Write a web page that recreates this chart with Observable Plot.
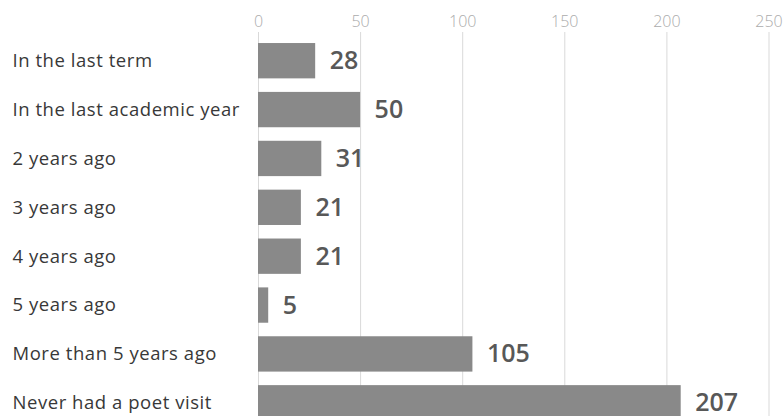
<!DOCTYPE html>
<html><head><meta charset="utf-8">
<script src="https://cdn.jsdelivr.net/npm/d3@7"></script>
<script src="https://cdn.jsdelivr.net/npm/@observablehq/plot@0.6"></script>
<style>html,body{margin:0;padding:0;overflow:hidden;background:#fff}</style>
</head><body><div id="chart"></div>
<script>
const categories = [
  "In the last term",
  "In the last academic year",
  "2 years ago",
  "3 years ago",
  "4 years ago",
  "5 years ago",
  "More than 5 years ago",
  "Never had a poet visit"
];
const values = [28, 50, 31, 21, 21, 5, 105, 207];
const xTicks = [0, 50, 100, 150, 200, 250];
const data = categories.map((c, i) => ({category: c, value: values[i]}));

const chart = Plot.plot({
  width: 784,
  height: 416,
  marginTop: 32,
  marginBottom: 0,
  marginLeft: 258,
  marginRight: 15.5,
  style: {fontFamily: "'Open Sans', sans-serif", background: "#fff", overflow: "hidden"},
  x: {domain: [0, 250], ticks: xTicks, axis: null, label: null},
  y: {domain: categories, range: [29.5, 434], padding: 0.277, round: false, axis: null, label: null},
  marks: [
    Plot.gridX(xTicks, {stroke: "#d9d9d9", strokeOpacity: 1}),
    Plot.axisX(xTicks, {anchor: "top", label: null, tickSize: 0, tickPadding: 6, fill: "#ababab", fontSize: 16, fontWeight: 300}),
    Plot.barX(data, {x: "value", y: "category", fill: "#898989"}),
    Plot.text(data, {x: "value", y: "category", text: d => String(d.value), textAnchor: "start", dx: 14, fontSize: 25, fontWeight: 600, fill: "#585858"}),
    Plot.text(data, {y: "category", text: "category", frameAnchor: "left", textAnchor: "start", dx: -246, fontSize: 18.5, fill: "#383838"})
  ]
});
d3.select(chart).selectAll("text")
  .filter(function() { return categories.includes(this.textContent); })
  .attr("letter-spacing", "0.55px");
document.getElementById("chart").appendChild(chart);
</script>
</body></html>
